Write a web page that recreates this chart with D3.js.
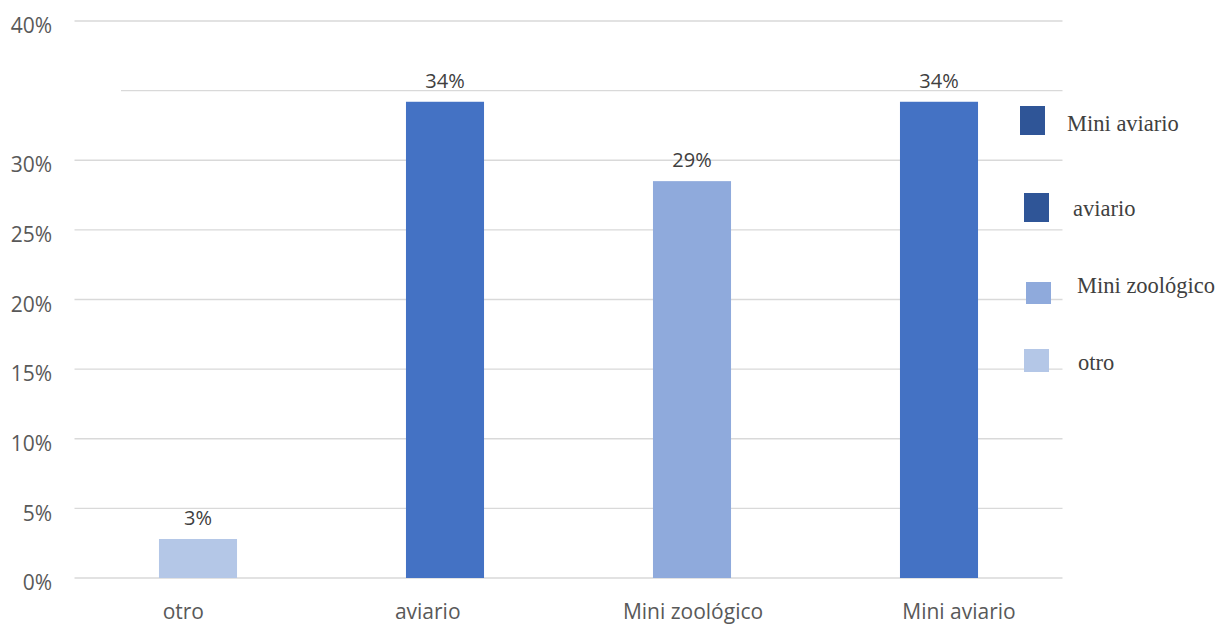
<!DOCTYPE html>
<html><head><meta charset="utf-8">
<script src="https://cdn.jsdelivr.net/npm/d3@7"></script>
<style>html,body{margin:0;padding:0;background:#fff;}</style>
</head><body>
<svg id="chart" width="1227" height="626"></svg>
<script>
const categories = ["otro", "aviario", "Mini zoológico", "Mini aviario"];
const values = [2.8, 34.2, 28.5, 34.2];
const barColors = ["#B4C7E7", "#4472C4", "#8FAADC", "#4472C4"];
const yTicks = [0, 5, 10, 15, 20, 25, 30, 40];
const gridTicks = [0, 5, 10, 15, 20, 25, 30, 35, 40];
const legendLabels = ["Mini aviario", "aviario", "Mini zoológico", "otro"];
const legendColors = ["#2F5597", "#2F5597", "#8FAADC", "#B4C7E7"];

const svg = d3.select("#chart");
const plotLeft = 74.5, plotRight = 1062.5, plotTop = 21, plotBottom = 578;

const x = d3.scaleBand().domain(categories).range([plotLeft, plotRight])
  .paddingInner(0.684).paddingOuter(0.342);
const y = d3.scaleLinear().domain([0, 40]).range([plotBottom, plotTop]);

// gridlines
svg.append("g").selectAll("line").data(gridTicks).join("line")
  .attr("x1", d => d === 35 ? 121 : plotLeft)
  .attr("x2", plotRight)
  .attr("y1", d => y(d)).attr("y2", d => y(d))
  .attr("stroke", "#D9D9D9").attr("stroke-width", 1.3);

// y axis labels
const yAxis = d3.axisLeft(y).tickValues(yTicks).tickFormat(d => d + "%").tickSize(0).tickPadding(0);
const yg = svg.append("g").attr("transform", `translate(52,5)`).call(yAxis);
yg.select(".domain").remove();
yg.selectAll("text").attr("font-family", "Open Sans").attr("font-size", 21).attr("fill", "#595959");

// x axis labels (reference labels are slightly shifted from bar centres)
const xLabelShift = [-14.7, -17.3, 1, 20];
const xAxis = d3.axisBottom(x).tickSize(0).tickPadding(0);
const xg = svg.append("g").attr("transform", `translate(0,604)`).call(xAxis);
xg.select(".domain").remove();
xg.selectAll("text").attr("font-family", "Open Sans").attr("font-size", 21).attr("fill", "#595959")
  .attr("dx", (d, i) => xLabelShift[i]);

// bars
svg.append("g").selectAll("rect").data(categories).join("rect")
  .attr("x", d => x(d)).attr("width", x.bandwidth())
  .attr("y", (d, i) => y(values[i])).attr("height", (d, i) => y(0) - y(values[i]))
  .attr("fill", (d, i) => barColors[i]);

// data labels
svg.append("g").selectAll("text").data(categories).join("text")
  .attr("x", d => x(d) + x.bandwidth() / 2)
  .attr("y", (d, i) => y(values[i]) - 14)
  .attr("text-anchor", "middle")
  .attr("font-family", "Open Sans").attr("font-size", 20).attr("fill", "#404040")
  .text((d, i) => Math.round(values[i]) + "%");

// legend (irregular placement as in the reference)
const legendLayout = [
  {sx: 1020, sy: 106, sw: 25, sh: 29, tx: 1067, ty: 131},
  {sx: 1024, sy: 193, sw: 25, sh: 29, tx: 1073, ty: 216},
  {sx: 1026, sy: 282, sw: 25, sh: 22, tx: 1077, ty: 293},
  {sx: 1024, sy: 349, sw: 25, sh: 23, tx: 1078, ty: 370}
];
const lg = svg.append("g");
lg.selectAll("rect").data(legendLabels).join("rect")
  .attr("x", (d, i) => legendLayout[i].sx).attr("y", (d, i) => legendLayout[i].sy)
  .attr("width", (d, i) => legendLayout[i].sw).attr("height", (d, i) => legendLayout[i].sh)
  .attr("fill", (d, i) => legendColors[i]);
lg.selectAll("text").data(legendLabels).join("text")
  .attr("x", (d, i) => legendLayout[i].tx).attr("y", (d, i) => legendLayout[i].ty)
  .attr("font-family", "Liberation Serif").attr("font-size", 22.5).attr("fill", "#404040")
  .text(d => d);
</script>
</body></html>
